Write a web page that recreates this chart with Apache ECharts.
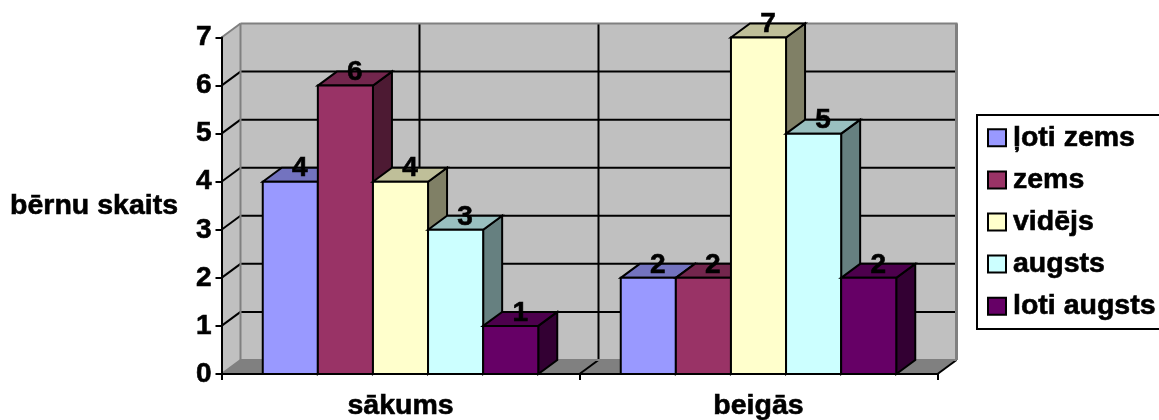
<!DOCTYPE html>
<html><head><meta charset="utf-8">
<style>html,body{margin:0;padding:0;background:#fff}#c{width:1159px;height:420px}</style>
<script src="https://cdn.jsdelivr.net/npm/echarts@6/dist/echarts.min.js"></script>
</head><body><div id="c"></div>
<script>
const categories = ['sākums', 'beigās'];
const yTicks = [0, 1, 2, 3, 4, 5, 6, 7];
const seriesNames = ['ļoti zems', 'zems', 'vidējs', 'augsts', 'loti augsts'];
const loti_zems = [4, 2];
const zems = [6, 2];
const videjs = [4, 7];
const augsts = [3, 5];
const loti_augsts = [1, 2];
const seriesValues = [loti_zems, zems, videjs, augsts, loti_augsts];
const colors = ['#9999FF', '#993366', '#FFFFCC', '#CCFFFF', '#660066'];

const FONT = '"Liberation Sans", Arial, sans-serif';
const DX = 19, DY = 14, BAR_RATIO = 55.1 / 358, LW = 2;
const BLACK = '#000', EDGE = '#808080', WALL = '#C0C0C0', FLOOR = '#808080';
const TXT = {fontFamily: FONT, fontWeight: 'bold', color: BLACK, textBorderColor: BLACK, textBorderWidth: 0.6};

function shade(hex, k) {
  const n = parseInt(hex.slice(1), 16);
  const f = s => Math.round(((n >> s) & 255) * k);
  return `rgb(${f(16)},${f(8)},${f(0)})`;
}
function poly(points, fill, stroke, lw) {
  return {type: 'polygon', shape: {points}, style: {fill, stroke: stroke || fill, lineWidth: lw || 0, lineJoin: 'miter'}};
}
function line(x1, y1, x2, y2, stroke, lw) {
  return {type: 'line', shape: {x1, y1, x2, y2}, style: {stroke, lineWidth: lw || LW, lineCap: 'butt'}};
}

function renderWalls(params, api) {
  const w = api.size([1, 0])[0];
  const first = api.coord([0, 0]);
  const top = api.coord([0, yTicks[yTicks.length - 1]])[1];
  const x0 = first[0] - w / 2, y0 = first[1], x1 = x0 + w * categories.length;
  const ch = [];
  ch.push(poly([[x0 + DX, top - DY], [x1 + DX, top - DY], [x1 + DX, y0 - DY], [x0 + DX, y0 - DY]], WALL));
  ch.push(poly([[x0, top], [x0 + DX, top - DY], [x0 + DX, y0 - DY], [x0, y0]], WALL));
  ch.push(poly([[x0, y0], [x0 + DX, y0 - DY], [x1 + DX, y0 - DY], [x1, y0]], FLOOR));
  yTicks.slice(1, -1).forEach(t => {
    const y = api.coord([0, t])[1];
    ch.push(line(x0, y, x0 + DX, y - DY, BLACK));
    ch.push(line(x0 + DX, y - DY, x1 + DX, y - DY, BLACK));
  });
  categories.forEach((c, i) => {
    const cx = x0 + w * (i + 0.5);
    ch.push(line(cx + DX, top - DY, cx + DX, y0 - DY, BLACK));
    if (i > 0) {
      const bx = x0 + w * i;
      ch.push(line(bx + DX, top - DY, bx + DX, y0 - DY, BLACK));
      ch.push(line(bx, y0, bx + DX, y0 - DY, BLACK));
    }
  });
  ch.push(line(x1, y0, x1 + DX, y0 - DY, BLACK));
  ch.push(line(x0 + DX, top - DY, x1 + DX + 1, top - DY, EDGE));
  ch.push(line(x0 + DX, top - DY, x0 + DX, y0 - DY, EDGE));
  ch.push(line(x0, top, x0 + DX, top - DY, EDGE));
  ch.push(line(x0, y0, x0 + DX, y0 - DY, EDGE));
  ch.push(line(x1 + DX, top - DY, x1 + DX, y0 - DY, EDGE, 3));
  ch.push(line(x0 + DX, y0 - DY, x1 + DX, y0 - DY, EDGE));
  return {type: 'group', children: ch};
}

function barRenderer(si) {
  return function (params, api) {
    const cat = api.value(0), val = api.value(1);
    const p = api.coord([cat, val]), b = api.coord([cat, 0]);
    const bw = api.size([1, 0])[0] * BAR_RATIO;
    const l = p[0] + (si - (seriesNames.length - 1) / 2 - 0.5) * bw, r = l + bw;
    const c = colors[si];
    return {type: 'group', children: [
      poly([[r, p[1]], [r + DX, p[1] - DY], [r + DX, b[1] - DY], [r, b[1]]], shade(c, 0.5), BLACK, LW),
      poly([[l, p[1]], [l + DX, p[1] - DY], [r + DX, p[1] - DY], [r, p[1]]], shade(c, 0.75), BLACK, LW),
      poly([[l, p[1]], [r, p[1]], [r, b[1]], [l, b[1]]], c, BLACK, LW),
      {type: 'text', style: {text: String(val), x: (l + r) / 2 + DX / 2, y: p[1] - DY + 1, align: 'center', verticalAlign: 'middle',
        fontFamily: FONT, fontWeight: 'bold', fontSize: 28, fill: BLACK, stroke: BLACK, lineWidth: 0.6}}
    ]};
  };
}

const series = [{
  name: 'walls', type: 'custom', z: 0, silent: true, clip: false,
  data: [[0, 0]], encode: {x: 0, y: 1}, renderItem: renderWalls
}];
seriesNames.forEach((name, si) => series.push({
  name, type: 'custom', z: 2, clip: false, itemStyle: {color: colors[si]},
  encode: {x: 0, y: 1},
  data: categories.map((c, i) => [i, seriesValues[si][i]]),
  renderItem: barRenderer(si)
}));

const chart = echarts.init(document.getElementById('c'), null, {renderer: 'canvas'});
chart.setOption({
  animation: false,
  backgroundColor: '#fff',
  grid: {left: 221.5, right: 221.5, top: 37.5, bottom: 46, containLabel: false, outerBoundsMode: 'none'},
  legend: {
    data: seriesNames, orient: 'vertical', left: 977, top: 115, icon: 'rect',
    itemWidth: 18, itemHeight: 17, itemGap: 12.5, selectedMode: false,
    padding: [8, 30, 8, 10], borderColor: BLACK, borderWidth: 2, backgroundColor: '#fff',
    itemStyle: {borderColor: BLACK, borderWidth: 2},
    textStyle: Object.assign({}, TXT, {fontSize: 28.5, lineHeight: 28, padding: [0, 0, 0, 2]})
  },
  xAxis: {
    type: 'category', data: categories, z: 1,
    axisLine: {lineStyle: {color: BLACK, width: 2}},
    axisTick: {show: true, length: 6, alignWithLabel: false, lineStyle: {color: BLACK, width: 2}},
    axisLabel: Object.assign({}, TXT, {margin: 18, fontSize: 28.5}),
    splitLine: {show: false}
  },
  yAxis: {
    type: 'value', min: 0, max: 7, interval: 1, z: 1,
    name: 'bērnu skaits', nameLocation: 'middle', nameRotate: 0, nameGap: 43.5,
    nameTextStyle: Object.assign({}, TXT, {fontSize: 28.5}),
    axisLine: {show: true, lineStyle: {color: BLACK, width: 2}},
    axisTick: {show: true, length: 6, lineStyle: {color: BLACK, width: 2}},
    axisLabel: Object.assign({}, TXT, {margin: 10, fontSize: 28}),
    splitLine: {show: false}
  },
  series
});
</script></body></html>
